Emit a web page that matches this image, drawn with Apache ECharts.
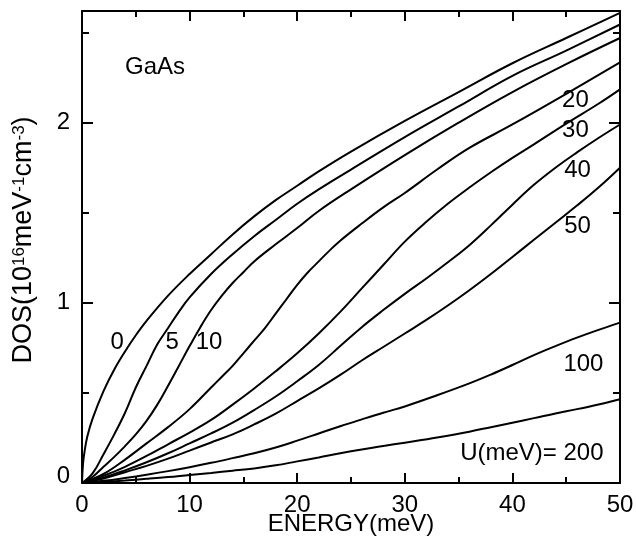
<!DOCTYPE html>
<html>
<head>
<meta charset="utf-8">
<script src="https://cdn.jsdelivr.net/npm/echarts@6/dist/echarts.min.js"></script>
<style>
html,body{margin:0;padding:0;background:#fff;}
#c{width:636px;height:546px;}
</style>
</head>
<body>
<div id="c"></div>
<script>
// ---- data: [energy (meV), DOS (1e16 meV^-1 cm^-3)] ----
const U0 = [[0,0],[0.1,0.11],[0.25,0.18],[0.5,0.26],[1,0.36],[2,0.51],[3,0.63],[4,0.73],[5,0.82],[6,0.9],[8,1.04],[10,1.16],[12,1.27],[14,1.38],[16,1.48],[18,1.57],[20,1.65],[22,1.73],[25,1.84],[30,2.01],[35,2.17],[40,2.33],[45,2.47],[50,2.61]];
const U5 = [[0,0],[1,0.055],[2,0.16],[3,0.27],[4,0.39],[5,0.53],[6,0.65],[7,0.77],[8,0.86],[9,0.95],[10,1.03],[12,1.16],[14,1.27],[16,1.37],[18,1.46],[20,1.55],[22,1.63],[25,1.74],[30,1.92],[35,2.09],[40,2.26],[45,2.40],[50,2.545]];
const U10 = [[0,0],[1,0.035],[2,0.09],[3,0.145],[4,0.205],[5,0.27],[6,0.345],[7,0.435],[8,0.54],[9,0.65],[10,0.76],[11,0.865],[12,0.96],[13,1.04],[14,1.11],[15,1.17],[16,1.23],[18,1.325],[20,1.415],[22,1.51],[25,1.63],[30,1.82],[35,2.0],[40,2.17],[45,2.325],[50,2.47]];
const U20 = [[0,0],[2,0.05],[4,0.13],[6,0.22],[8,0.31],[10,0.41],[12,0.53],[13,0.59],[14,0.65],[15,0.72],[16,0.79],[17,0.86],[18,0.94],[19,1.02],[20,1.1],[21,1.17],[22,1.23],[23,1.29],[24,1.345],[26,1.44],[28,1.53],[30,1.61],[33,1.74],[36,1.86],[40,1.99],[45,2.16],[50,2.335]];
const U30 = [[0,0],[2,0.04],[4,0.09],[6,0.15],[8,0.215],[10,0.28],[12,0.35],[14,0.435],[16,0.525],[18,0.62],[20,0.72],[22,0.83],[24,0.95],[26,1.08],[28,1.21],[30,1.34],[32,1.45],[34,1.55],[36,1.64],[38,1.725],[40,1.805],[42,1.88],[45,1.995],[48,2.105],[50,2.185]];
const U40 = [[0,0],[2,0.03],[4,0.07],[6,0.115],[8,0.165],[10,0.22],[12,0.275],[14,0.335],[16,0.405],[18,0.48],[20,0.565],[22,0.655],[24,0.76],[26,0.865],[28,0.96],[30,1.05],[32,1.135],[34,1.225],[36,1.32],[38,1.43],[40,1.545],[42,1.655],[44,1.75],[46,1.835],[48,1.915],[50,1.99]];
const U50 = [[0,0],[2,0.025],[4,0.06],[6,0.095],[8,0.135],[10,0.18],[12,0.225],[14,0.27],[16,0.325],[18,0.385],[20,0.455],[22,0.525],[24,0.6],[26,0.68],[28,0.755],[30,0.83],[32,0.905],[34,0.985],[36,1.07],[38,1.16],[40,1.255],[42,1.35],[44,1.445],[46,1.54],[48,1.64],[50,1.75]];
const U100 = [[0,0],[2,0.012],[4,0.028],[6,0.046],[8,0.066],[10,0.088],[12,0.112],[14,0.138],[16,0.165],[18,0.197],[20,0.235],[22,0.275],[24,0.315],[26,0.353],[28,0.39],[30,0.425],[33,0.487],[36,0.553],[38,0.602],[40,0.655],[42,0.71],[44,0.76],[46,0.807],[48,0.85],[50,0.89]];
const U200 = [[0,0],[2,0.006],[4,0.014],[6,0.023],[8,0.033],[10,0.045],[12,0.056],[14,0.068],[16,0.081],[18,0.098],[20,0.12],[22,0.142],[24,0.165],[26,0.186],[28,0.205],[30,0.224],[33,0.253],[36,0.285],[38,0.31],[40,0.335],[42,0.36],[44,0.386],[46,0.41],[48,0.436],[50,0.465]];

const curves = [U0, U5, U10, U20, U30, U40, U50, U100, U200];
const curveNames = ['U=0','U=5','U=10','U=20','U=30','U=40','U=50','U=100','U=200'];

// text annotations placed in data coordinates [energy, DOS]
const annoText  = ['GaAs','0','5','10','20','30','40','50','100','U(meV)= 200'];
const annoE     = [6.79, 3.26, 8.37, 11.81, 45.86, 45.86, 46.05, 46.05, 46.6, 48.47];
const annoD     = [2.306, 0.783, 0.783, 0.783, 2.122, 1.956, 1.733, 1.422, 0.656, 0.167];
const annoAlign = ['center','center','center','center','center','center','center','center','center','right'];

const xTicks = {min: 0, max: 50, interval: 10};
const yTicks = {min: 0, max: 2.62, major: 1, minor: 0.5};

const FONT = "'Liberation Sans', Arial, Helvetica, sans-serif";
const BLACK = '#000';

const chart = echarts.init(document.getElementById('c'), null, {renderer: 'canvas'});

function xAx(pos, labels) {
  return {
    type: 'value', position: pos, min: xTicks.min, max: xTicks.max, interval: xTicks.interval,
    axisLine: {show: true, onZero: false, lineStyle: {color: BLACK, width: 2}},
    axisTick: {show: true, inside: true, length: 10, lineStyle: {color: BLACK, width: 2}},
    minorTick: {show: true, splitNumber: 2, length: 6, lineStyle: {color: BLACK, width: 2}},
    splitLine: {show: false}, minorSplitLine: {show: false},
    axisLabel: {show: labels, fontSize: 24, color: BLACK, fontFamily: FONT, margin: 10},
    name: labels ? 'ENERGY(meV)' : '', nameLocation: 'middle', nameGap: 29, nameMoveOverlap: false,
    nameTextStyle: {fontSize: 24, color: BLACK, fontFamily: FONT}
  };
}
function yAx(pos, interval, len, labels, line) {
  return {
    type: 'value', position: pos, min: yTicks.min, max: yTicks.max, interval: interval,
    axisLine: {show: line, onZero: false, lineStyle: {color: BLACK, width: 2}},
    axisTick: {show: true, inside: true, length: len, lineStyle: {color: BLACK, width: 2}},
    splitLine: {show: false},
    axisLabel: {show: labels, fontSize: 24, color: BLACK, fontFamily: FONT, margin: 12,
      lineHeight: 14, showMaxLabel: false, verticalAlignMinLabel: 'bottom'}
  };
}

const option = {
  animation: false,
  backgroundColor: '#fff',
  grid: {left: 82, right: 16, top: 11, bottom: 63, containLabel: false, outerBoundsMode: 'none'},
  xAxis: [xAx('bottom', true), xAx('top', false)],
  yAxis: [
    yAx('left', yTicks.major, 11, true, true),
    yAx('left', yTicks.minor, 7, false, false),
    yAx('right', yTicks.major, 11, false, true),
    yAx('right', yTicks.minor, 7, false, false)
  ],
  series: curves.map((d, i) => ({
    type: 'line', name: curveNames[i], data: d, xAxisIndex: 0, yAxisIndex: 0,
    showSymbol: false, smooth: 0.4,
    lineStyle: {color: BLACK, width: 2}, silent: true
  }))
};
chart.setOption(option);

const g = annoText.map((t, i) => {
  const p = chart.convertToPixel({xAxisIndex: 0, yAxisIndex: 0}, [annoE[i], annoD[i]]);
  return {type: 'text', x: p[0], y: p[1], silent: true,
    style: {text: t, fontSize: 24, fontFamily: FONT, fill: BLACK, align: annoAlign[i], verticalAlign: 'middle'}};
});
g.push({
  type: 'text', x: 24, y: 240, rotation: Math.PI / 2, silent: true,
  style: {
    text: '{m|DOS(10}{s|16}{m|meV}{s|-1}{m|cm}{s|-3}{m|)}',
    align: 'center', verticalAlign: 'middle', fill: BLACK, fontFamily: FONT,
    rich: {
      m: {fontSize: 27, lineHeight: 27, padding: [12, 0, 0, 0], verticalAlign: 'bottom', fontFamily: FONT, fill: BLACK},
      s: {fontSize: 17, lineHeight: 17, verticalAlign: 'top', fontFamily: FONT, fill: BLACK}
    }
  }
});
chart.setOption({graphic: g});
</script>
</body>
</html>
